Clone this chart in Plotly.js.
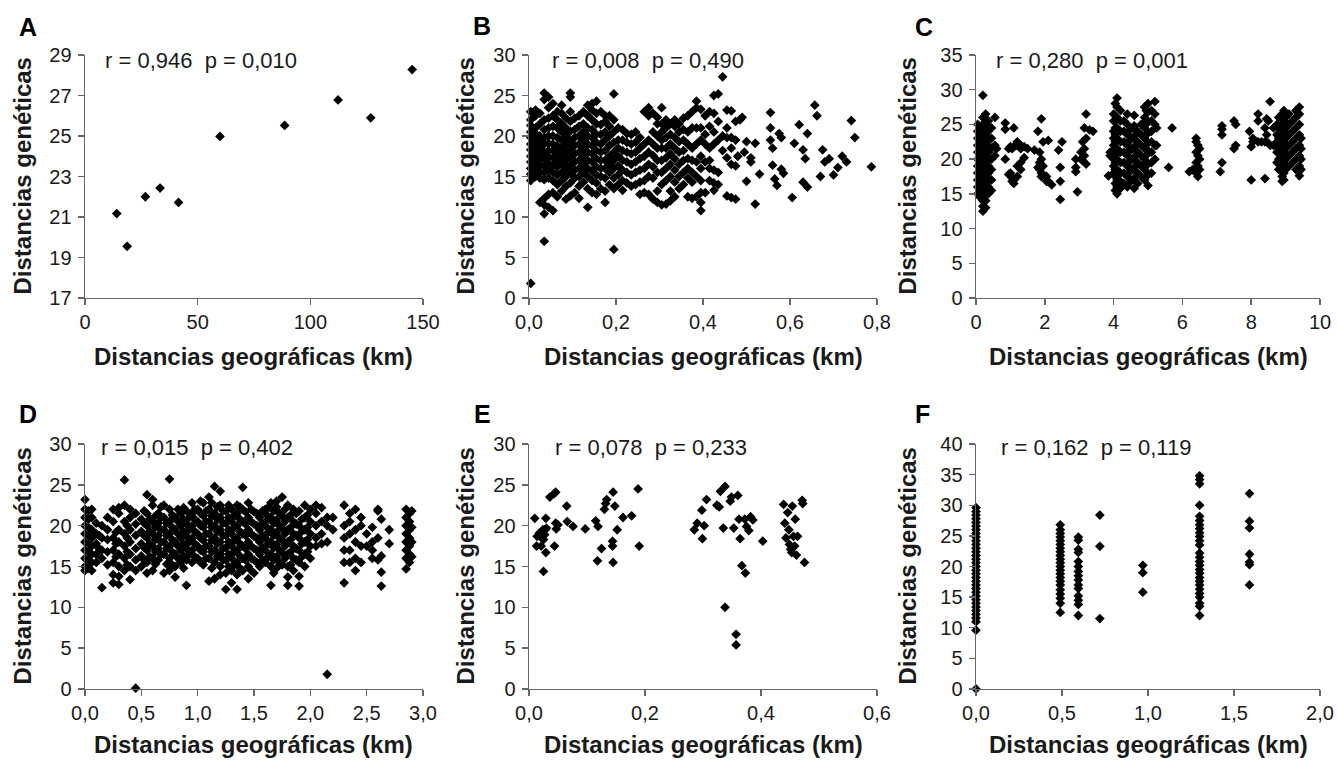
<!DOCTYPE html>
<html><head><meta charset="utf-8">
<script src="https://cdn.plot.ly/plotly-3.0.1.min.js"></script>
<style>html,body{margin:0;padding:0;background:#fff;}#chart{width:1337px;height:760px;}</style>
</head><body><div id="chart"></div>
<script>
// ---------- DATA ----------
const panelLetters = ['A','B','C','D','E','F'];
const statTexts = ['r = 0,946  p = 0,010','r = 0,008  p = 0,490','r = 0,280  p = 0,001',
                   'r = 0,015  p = 0,402','r = 0,078  p = 0,233','r = 0,162  p = 0,119'];
const xTitle = 'Distancias geográficas (km)';
const yTitle = 'Distancias genéticas';

// Panel A
const aX = [14.1, 18.7, 26.8, 33.3, 41.5, 59.9, 88.6, 112.3, 126.8, 145.2];
const aY = [21.17, 19.55, 22.0, 22.43, 21.72, 24.98, 25.52, 26.78, 25.9, 28.28];

// Panel B: strips (x) with their y values
const bCols = [0.004,0.015,0.025,0.035,0.045,0.055,0.065,0.075,0.085,0.095,0.105,0.115,0.125,0.135,0.145,0.155,0.165,0.175,0.185,0.195,0.205,0.215,0.225,0.235,0.245,0.255,0.265,0.275,0.285,0.295,0.305,0.315,0.325,0.335,0.345,0.355,0.365,0.375,0.385,0.395,0.405,0.415,0.425,0.435,0.445,0.455,0.465,0.475];
const bVals = [
 [1.8,14.5,15.3,16.0,16.8,17.5,18.3,19.0,19.8,20.5,21.3,22.0,23.0],
 [15.0,15.8,16.5,17.3,18.0,18.8,19.5,20.3,21.0,22.5,23.2],
 [11.8,14.8,15.5,16.3,17.0,17.8,18.5,19.3,20.0,21.5,22.8],
 [7.0,10.4,11.5,12.3,14.6,15.5,16.3,17.2,18.0,19.0,19.8,20.8,22.0,24.5,25.3],
 [11.2,12.8,14.8,15.8,16.6,17.4,18.2,19.1,20.0,21.0,22.2,23.5,24.8],
 [10.8,13.0,14.5,15.5,16.4,17.3,18.2,19.0,20.0,21.2,22.5,24.0],
 [12.5,14.0,15.2,16.2,17.0,17.9,18.8,19.8,21.0,22.0,23.0],
 [13.2,14.5,15.5,16.5,17.5,18.5,19.5,20.5,21.5,22.8,23.8],
 [12.2,13.8,15.0,16.0,17.0,18.0,19.0,20.0,21.0,22.2],
 [12.6,14.2,15.4,16.4,17.4,18.4,19.4,20.6,21.8,23.0,24.8,25.3],
 [13.0,14.8,15.8,16.8,17.8,18.8,19.8,20.8,22.2],
 [12.3,13.8,15.0,16.0,17.0,18.0,19.0,20.0,21.2,22.5],
 [14.3,15.5,16.5,17.5,18.5,19.5,20.5,21.5,23.0],
 [11.2,13.5,15.0,16.0,17.0,18.0,19.0,20.0,21.0,22.5,23.8],
 [13.0,14.5,15.7,16.8,17.8,18.8,19.8,20.8,22.0,23.2,24.0],
 [12.8,14.2,15.2,16.2,17.2,18.2,19.2,20.2,21.5,22.8,24.3],
 [13.5,15.0,16.0,17.0,18.0,19.0,20.2,21.4,23.0],
 [11.8,13.2,14.8,16.0,17.0,18.2,19.5,20.5,21.8,22.5],
 [14.0,15.5,16.5,17.5,18.8,20.0,21.2,22.5],
 [6.0,13.5,14.8,16.0,17.0,18.0,19.2,20.5,22.0,25.2],
 [14.0,15.2,16.3,17.5,18.5,19.5,21.0],
 [13.3,14.5,15.8,17.0,18.2,19.5,20.8],
 [14.2,15.5,16.8,18.0,19.2,20.3],
 [13.8,15.2,16.5,17.8,19.0,20.2],
 [14.0,15.5,16.8,18.0,19.2,20.5],
 [12.8,14.3,15.8,17.2,18.5,19.8],
 [13.0,14.5,16.0,17.5,19.0,23.0],
 [12.8,15.0,16.5,18.0,19.5,22.5,23.5],
 [12.2,14.8,16.2,17.6,19.0,20.5,22.8],
 [11.8,13.2,15.5,17.0,18.5,20.0,21.5,22.3],
 [11.5,14.0,15.5,17.0,18.5,19.5,20.5,21.5,23.5],
 [11.6,14.5,16.0,17.3,18.5,19.8,21.0,22.0],
 [12.0,13.2,15.0,16.5,17.8,19.0,20.2,21.5],
 [12.5,14.3,15.8,17.2,18.5,19.8,21.2,22.0],
 [13.5,15.0,16.5,18.0,19.3,20.5,21.5],
 [14.0,15.5,17.0,18.2,19.5,20.8,22.2],
 [12.5,14.8,16.0,17.2,19.0,20.5,22.5],
 [12.3,14.3,15.5,17.0,18.5,21.0,23.0],
 [12.5,15.0,16.8,19.0,21.0,23.5,24.3],
 [10.8,11.8,13.0,14.5,16.0,17.5,19.5,21.0,23.3],
 [13.0,16.8,19.0,20.2,22.5],
 [14.5,16.0,17.0,18.5,21.2,23.0],
 [13.3,14.2,15.8,19.0,20.5,22.8,25.0],
 [14.0,15.5,19.5,21.8,25.2],
 [18.2,20.0,27.3],
 [12.6,17.3,19.8,21.0,23.2],
 [12.4,16.5,18.5,19.8,23.1],
 [12.2,16.3,19.5,21.8]
];
const bExtraX = [0.48,0.485,0.49,0.495,0.50,0.50,0.51,0.51,0.52,0.52,0.53,0.555,0.555,0.555,0.56,0.56,0.565,0.57,0.575,0.58,0.58,0.585,0.605,0.61,0.621,0.63,0.63,0.635,0.64,0.64,0.657,0.662,0.67,0.675,0.68,0.69,0.70,0.71,0.72,0.73,0.741,0.749,0.787];
const bExtraY = [17.5,22.0,22.3,18.0,19.3,14.4,16.8,17.3,19.1,11.6,15.3,22.9,21.0,19.5,18.5,16.4,14.7,13.9,20.3,19.8,15.9,15.4,12.4,19.1,21.4,18.3,14.3,17.2,13.7,20.3,23.8,22.5,15.0,18.3,16.8,17.2,15.2,16.1,17.5,16.8,21.9,19.8,16.2];

// Panel C
const cCols = [0.05,0.12,0.2,0.28,0.36,0.45,0.55,0.6,0.85,0.95,1.0,1.05,1.1,1.2,1.3,1.4,1.5,1.7,1.8,1.85,1.9,1.95,2.05,2.1,2.2,2.4,2.45,2.5,2.9,2.95,3.05,3.1,3.15,3.2,3.3,3.4,3.85,3.9,4.0,4.05,4.1,4.2,4.3,4.4,4.5,4.6,4.7,4.8,4.9,4.95,5.0,5.1,5.2,5.25,5.6,5.7,6.2,6.3,6.4,6.45,6.5,7.1,7.15,7.5,7.55,7.95,8.0,8.05,8.2,8.3,8.4,8.45,8.5,8.55,8.65,8.75,8.8,8.9,8.95,9.0,9.1,9.2,9.3,9.4,9.45];
const cVals = [
 [15.0,16.0,17.0,18.0,19.0,20.0,21.0,22.0,23.0,24.0,25.0],
 [14.5,15.5,16.5,17.5,18.5,19.5,20.5,21.5,22.5,23.5,24.5],
 [12.5,13.2,14.0,15.0,16.0,17.0,18.0,19.0,20.0,21.0,22.0,23.0,24.0,25.0,26.0,29.2],
 [13.0,14.0,15.0,16.0,17.0,18.0,19.0,20.0,21.0,22.0,23.0,24.0,25.0,26.5],
 [15.0,16.0,17.0,18.0,19.0,20.0,21.0,22.0,23.0,24.0,25.5],
 [15.5,17.0,18.5,20.0,21.5,23.0,24.5],
 [20.5,22.0,26.0],
 [21.5],
 [20.0,24.3,25.2],
 [17.8,21.5],
 [18.0,21.8],
 [16.8,17.3,21.5],
 [16.5,17.0,21.8,24.5],
 [17.5,19.0,22.0,22.5],
 [18.5,19.5,21.5,22.0],
 [20.2,21.8],
 [21.5],
 [21.3],
 [18.8,24.0],
 [18.5,19.5,21.0],
 [17.5,18.0,20.0,25.8],
 [17.8,19.0,22.5],
 [16.8,17.5],
 [16.8,22.7],
 [16.3],
 [21.3],
 [14.2,16.8,18.8],
 [22.5],
 [18.2,18.8,20.0],
 [15.3],
 [20.0,21.0],
 [19.8,22.5],
 [20.5,21.5,24.5],
 [19.3,23.0,26.5],
 [24.2],
 [24.0],
 [17.6],
 [20.5,21.0],
 [18.0,19.0,20.0,21.0,22.0,23.0,24.0,25.5,26.5],
 [15.5,16.5,17.5,18.5,19.5,20.5,21.5,22.5,23.5,24.5,25.5,28.0],
 [15.0,16.0,17.0,18.5,20.0,21.5,23.0,24.5,26.0,27.5,28.8],
 [15.8,16.8,18.0,19.5,21.0,22.5,24.0,25.5,27.0],
 [16.5,18.0,19.5,21.0,22.5,24.0,25.5],
 [16.0,17.5,19.0,20.5,22.0,23.5,25.0,26.5],
 [16.8,18.3,19.8,21.3,22.8,24.3],
 [15.8,17.3,18.8,20.3,21.8,23.3,24.8,26.3],
 [16.5,18.0,19.5,21.0,22.5,24.0],
 [17.5,19.0,20.5,22.0,23.5,25.0],
 [17.0,18.5,20.0,21.5,23.0,24.5,26.0,27.5],
 [17.5,19.5,21.5,23.5,25.5,27.0],
 [16.2,17.8,19.3,20.8,22.3,23.8,25.3,26.8,28.0],
 [18.0,19.5,21.0,22.5,24.0,25.5,27.0],
 [20.0,22.0,25.0,26.5,28.3],
 [22.0,24.5],
 [18.8],
 [24.5],
 [18.2],
 [18.5],
 [18.0,19.5,21.0,22.5,23.0],
 [17.5,19.0,20.5,22.0],
 [18.5,20.0,21.5],
 [18.2],
 [19.5,23.5,24.3,24.8],
 [21.5,25.5],
 [22.0,25.0],
 [24.0],
 [17.0,21.8],
 [22.5,23.0],
 [22.5,25.5,26.5],
 [22.5],
 [17.2,22.5,24.5],
 [23.5,25.8],
 [22.3,25.5],
 [22.0,28.3],
 [22.0,24.5],
 [19.5,21.0,22.5,23.5,25.0],
 [18.5,20.0,21.5,23.0,24.5,26.0],
 [16.8,17.5,19.0,20.5,22.0,23.5,25.0,26.5],
 [17.0,18.0,19.5,21.0,22.5,24.0,25.5,27.0],
 [18.5,20.0,21.5,23.0,24.5,26.0],
 [19.0,20.5,22.0,23.5,25.0,26.5],
 [19.5,21.0,22.5,24.0,25.5],
 [18.5,20.0,21.5,23.0,24.5,26.0,27.0],
 [17.6,19.0,20.5,22.0,23.5,25.0,26.5,27.5],
 [18.5,20.0,21.5,23.0]
];

// Panel D (main strips + in-between strips)
const dCols = [0.0,0.03,0.06,0.1,0.15,0.2,0.25,0.3,0.35,0.4,0.45,0.5,0.55,0.6,0.65,0.7,0.75,0.8,0.85,0.9,0.95,1.0,1.05,1.1,1.15,1.2,1.25,1.3,1.35,1.4,1.45,1.5,1.55,1.6,1.65,1.7,1.75,1.8,1.85,1.9,1.95,2.0,2.05,2.1,2.15,2.2,2.3,2.35,2.4,2.45,2.5,2.55,2.6,2.63,2.7,2.85,2.88,2.9];
const dVals = [
 [14.5,15.0,16.0,17.0,18.0,19.0,20.0,21.0,22.0,23.2],
 [14.8,15.8,16.8,17.8,18.8,19.8,20.8,21.8],
 [14.5,15.5,16.5,17.5,18.5,19.5,21.0,22.0],
 [15.5,16.5,17.8,19.0,20.3],
 [12.4,16.0,17.0,18.5,20.0],
 [15.2,16.8,18.3,19.5,21.0],
 [13.0,14.0,15.5,17.0,18.5,20.5,22.0],
 [12.8,13.8,15.0,16.5,18.0,19.5,21.5,22.2],
 [14.5,16.0,17.5,19.0,20.5,22.5,25.6],
 [13.4,15.0,16.5,18.0,19.5,21.0,22.0],
 [0.1,14.5,15.8,17.2,18.8,20.2,21.5],
 [15.0,16.3,17.8,19.3,20.8],
 [14.2,15.5,17.0,18.5,20.0,21.5,23.8],
 [14.5,16.0,17.5,19.0,20.5,22.5,23.2],
 [15.8,17.2,18.8,20.3,21.5],
 [14.2,16.5,18.0,19.5,21.0,22.5],
 [14.5,16.0,17.5,19.0,20.5,22.0,25.7],
 [13.7,15.0,16.5,18.0,19.5,21.0],
 [15.5,17.0,18.5,20.0,21.5],
 [12.7,15.8,17.2,18.7,20.2,21.8],
 [15.5,17.0,18.5,20.0,21.5,22.8],
 [16.0,17.5,19.0,20.5,22.0],
 [15.2,16.8,18.2,19.8,21.2,22.8],
 [13.2,16.0,17.5,19.0,20.5,22.0,23.5],
 [13.5,15.5,17.0,18.5,20.0,21.5,24.8],
 [14.0,15.0,16.5,18.0,19.5,21.0,22.5,24.2],
 [12.2,14.2,15.8,17.3,18.8,20.3,21.8],
 [13.0,14.5,16.0,17.5,19.0,20.5,22.0],
 [12.2,14.0,15.5,17.0,18.5,20.0,21.5,22.5],
 [14.5,16.0,17.5,19.0,20.5,22.0,24.7],
 [13.5,15.0,16.5,18.0,19.5,21.0,22.8],
 [14.2,15.8,17.2,18.7,20.2,21.7],
 [15.0,16.5,18.0,19.5,21.0],
 [15.5,17.0,18.5,20.0,21.5,22.0],
 [12.7,15.0,16.5,18.0,19.5,21.0,22.8],
 [14.8,16.2,17.7,19.2,20.7,22.3,23.0],
 [15.2,16.7,18.2,19.7,21.2,23.5],
 [12.7,13.7,15.0,16.5,18.0,19.5,21.0,22.5],
 [14.5,16.0,17.5,19.0,20.5,22.0],
 [12.6,13.8,15.5,17.0,18.5,20.0,21.8],
 [15.0,16.5,18.0,19.5,21.0,22.5],
 [16.0,17.5,19.0,20.5,22.0],
 [17.5,18.5,20.0,21.5,22.5],
 [17.8,19.0,20.5,22.2],
 [1.8,18.0,20.0,21.0],
 [19.5,21.0],
 [13.0,15.5,17.0,18.5,20.0,22.5],
 [15.5,17.0,19.0,20.5,21.5],
 [14.5,16.0,18.0,19.5,22.0],
 [15.5,17.5,20.0,21.0],
 [17.5,19.0],
 [16.0,17.0,18.0,19.8],
 [15.8,18.5,21.8,22.0],
 [12.6,14.3,16.3,20.8],
 [17.8,19.5],
 [14.7,16.0,17.0,18.0,19.0,20.0,21.0,22.0],
 [15.5,16.5,17.5,18.5,19.5,20.5,21.5],
 [16.2,18.0,19.8,21.8]
];
const dCols2 = [0.125,0.275,0.375,0.525,0.575,0.625,0.675,0.725,0.775,0.825,0.875,0.925,0.975,1.025,1.075,1.125,1.175,1.225,1.275,1.325,1.375,1.425,1.475,1.525,1.575,1.625,1.675,1.725,1.775,1.825,1.875,1.925,1.975];
const dVals2 = [
 [17.2,18.8],
 [16.2,17.8,19.2],
 [15.2,16.8,18.5,20.0],
 [15.8,17.3,18.8,20.3,21.8],
 [16.2,17.8,19.3,20.8],
 [15.3,16.8,18.3,19.8,21.2],
 [16.5,18.0,19.5,21.0,22.3],
 [15.3,17.2,18.8,20.3],
 [15.2,16.8,18.3,19.8,21.3],
 [16.0,17.5,19.0,20.5,22.0],
 [14.8,16.3,17.8,19.3,20.8,22.2],
 [16.5,18.0,19.5,21.0],
 [16.2,17.8,19.3,20.8,22.0],
 [15.5,17.0,18.5,20.0,21.5,23.0],
 [16.0,17.5,19.0,20.5,21.8],
 [14.8,16.8,18.2,19.8,21.2,22.8],
 [16.2,17.8,19.3,20.8,22.3],
 [15.8,17.2,18.8,20.3,21.8],
 [15.0,16.5,18.0,19.5,21.0,22.5],
 [15.2,16.8,18.2,19.8,21.2],
 [14.8,16.3,17.8,19.3,20.8,22.3],
 [15.8,17.2,18.8,20.2,21.7],
 [14.5,16.0,17.5,19.0,20.5,22.0],
 [15.5,17.0,18.5,20.0,21.5],
 [15.8,17.3,18.8,20.3,21.8],
 [16.2,17.8,19.2,20.8,22.2],
 [14.2,15.8,17.3,18.8,20.3,21.8],
 [15.5,17.0,18.5,20.0,21.5],
 [16.0,17.5,19.0,20.5,22.0],
 [15.2,16.8,18.3,19.8,21.3],
 [15.8,17.2,18.8,20.2,21.5],
 [16.2,17.8,19.3,20.8],
 [16.8,18.3,19.8,21.3]
];

// Panel E
const eX = [0.010,0.013,0.014,0.018,0.020,0.022,0.021,0.024,0.025,0.027,0.028,0.029,0.029,0.025,0.030,0.036,0.043,0.046,0.044,0.046,0.047,0.050,0.065,0.066,0.076,0.097,0.115,0.119,0.118,0.125,0.130,0.134,0.132,0.144,0.144,0.145,0.145,0.148,0.152,0.162,0.177,0.188,0.190,0.285,0.290,0.298,0.299,0.302,0.306,0.324,0.328,0.330,0.335,0.338,0.338,0.347,0.349,0.353,0.357,0.357,0.360,0.362,0.364,0.367,0.373,0.372,0.375,0.379,0.382,0.386,0.403,0.439,0.441,0.443,0.446,0.448,0.449,0.451,0.453,0.454,0.456,0.458,0.459,0.461,0.463,0.471,0.472,0.475];
const eY = [20.9,17.5,18.7,19.1,18.9,18.5,17.5,19.5,18.3,18.9,19.5,20.9,16.7,14.4,19.7,23.5,23.9,24.1,17.5,20.3,19.6,20.1,22.4,20.5,19.9,19.6,20.6,19.9,15.7,17.2,22.0,23.2,22.7,18.1,17.5,24.1,15.5,22.4,19.5,21.0,21.2,24.5,17.5,19.5,20.3,21.9,18.4,20.0,23.2,22.5,22.3,24.2,19.7,24.8,10.0,23.0,23.5,19.7,6.7,5.4,23.7,20.8,18.4,15.1,14.2,20.8,19.9,19.4,21.1,20.7,18.1,22.6,20.3,18.5,21.6,19.5,17.7,17.1,16.7,22.4,18.7,17.5,20.8,16.4,18.7,23.1,22.7,15.5];

// Panel F
const fCols = [0.0,0.49,0.595,0.72,0.97,1.30,1.59];
const fVals = [
 [0,9.6,11.0,11.6,12.2,12.8,13.4,14.0,14.6,15.2,15.8,16.4,17.0,17.6,18.2,18.8,19.4,20.0,20.6,21.2,21.8,22.4,23.0,23.6,24.2,24.8,25.4,26.0,26.6,27.2,27.8,28.4,29.0,29.6],
 [12.5,14.0,14.8,15.5,16.2,17.0,17.6,18.2,18.8,19.4,20.0,20.6,21.2,21.8,22.4,23.0,23.6,24.2,24.8,25.4,26.0,26.8],
 [12.0,13.8,14.5,15.2,16.4,17.0,17.8,18.5,19.2,20.0,20.8,22.3,22.8,24.3,24.8],
 [11.5,23.3,28.4],
 [15.8,19.0,20.2],
 [12.0,13.5,14.0,15.0,15.6,16.3,17.0,17.6,18.2,18.9,19.5,20.2,20.8,21.5,22.2,23.5,24.2,24.9,25.5,26.2,26.8,27.5,28.2,30.0,33.5,34.2,34.8],
 [17.0,20.3,20.7,22.0,26.3,27.4,31.9]
];

const xRanges = [[0,150],[0,0.8],[0,10],[0,3],[0,0.6],[0,2]];
const xDticks = [50,0.2,2,0.5,0.2,0.5];
const xFormats = ['d','.1f','d','.1f','.1f','.1f'];
const yRanges = [[17,29],[0,30],[0,35],[0,30],[0,30],[0,40]];
const yTick0 = [17,0,0,0,0,0];
const yDticks = [2,5,5,5,5,5];

// ---------- BUILD ----------
function flat(cols, vals, exX, exY) {
  const x = [], y = [];
  cols.forEach((c, i) => vals[i].forEach(v => { x.push(c); y.push(v); }));
  if (exX) exX.forEach((v, i) => { x.push(v); y.push(exY[i]); });
  return {x, y};
}
const B = flat(bCols, bVals, bExtraX, bExtraY);
const C = flat(cCols, cVals);
const D1 = flat(dCols, dVals), D2 = flat(dCols2, dVals2);
const F = flat(fCols, fVals);
const series = [{x: aX, y: aY}, B, C, {x: D1.x.concat(D2.x), y: D1.y.concat(D2.y)}, {x: eX, y: eY}, F];

const W = 1337, H = 760;
const colPx = [[85,423],[529,877],[976,1320]];
const rowPx = [[55,298],[444,689]];
const FONT = 'Arial, "Liberation Sans", sans-serif';
const TXT = '#1a1a1a';
const AX = '#666666';

const traces = [];
const layout = {
  width: W, height: H, margin: {l:0, r:0, t:0, b:0},
  paper_bgcolor: '#fff', plot_bgcolor: 'rgba(0,0,0,0)',
  showlegend: false, separators: ', ',
  font: {family: FONT, color: TXT},
  annotations: []
};

const letterPx = [[28,27],[482,26],[924,27],[28,414],[482,414],[922,414]];
const statPx = [[103,60],[550,60],[994,60],[99,447],[553,448],[999,447]];
const yTitleX = [22,465,907];
const xTitleY = [356,744];

for (let i = 0; i < 6; i++) {
  const col = i % 3, row = Math.floor(i / 3);
  const sfx = i === 0 ? '' : String(i + 1);
  const [x0, x1] = colPx[col], [y0, y1] = rowPx[row];
  const xd = [x0 / W, x1 / W], yd = [1 - y1 / H, 1 - y0 / H];
  traces.push({
    type: 'scatter', mode: 'markers', x: series[i].x, y: series[i].y,
    xaxis: 'x' + sfx, yaxis: 'y' + sfx, cliponaxis: false,
    marker: {symbol: 'diamond', size: 7.5, color: '#000', line: {width: 0}},
    hoverinfo: 'x+y'
  });
  const common = {showline: true, linecolor: AX, linewidth: 1.4, ticks: 'outside', ticklen: 6,
    tickcolor: AX, tickwidth: 1.4, showgrid: false, zeroline: false,
    tickfont: {family: FONT, size: 20, color: TXT}, fixedrange: true};
  layout['xaxis' + sfx] = Object.assign({}, common, {domain: xd, range: xRanges[i],
    dtick: xDticks[i], tick0: 0, tickformat: xFormats[i], anchor: 'y' + sfx});
  layout['yaxis' + sfx] = Object.assign({}, common, {domain: yd, range: yRanges[i],
    dtick: yDticks[i], tick0: yTick0[i], anchor: 'x' + sfx, ticklabelstandoff: 2});
  layout.annotations.push({xref: 'paper', yref: 'paper', x: letterPx[i][0] / W, y: 1 - letterPx[i][1] / H,
    xanchor: 'center', yanchor: 'middle', showarrow: false, text: '<b>' + panelLetters[i] + '</b>',
    font: {family: FONT, size: 25, color: '#000'}});
  layout.annotations.push({xref: 'paper', yref: 'paper', x: statPx[i][0] / W, y: 1 - statPx[i][1] / H,
    xanchor: 'left', yanchor: 'middle', showarrow: false, text: statTexts[i].replace(/  /g, ' \u00a0'),
    font: {family: FONT, size: 22, color: TXT}});
  layout.annotations.push({xref: 'paper', yref: 'paper', x: yTitleX[col] / W, y: 1 - (y0 + y1) / 2 / H,
    xanchor: 'center', yanchor: 'middle', showarrow: false, textangle: -90, text: '<b>' + yTitle + '</b>',
    font: {family: FONT, size: 24, color: TXT}});
  layout.annotations.push({xref: 'paper', yref: 'paper', x: (x0 + x1) / 2 / W, y: 1 - xTitleY[row] / H,
    xanchor: 'center', yanchor: 'middle', showarrow: false, text: '<b>' + xTitle + '</b>',
    font: {family: FONT, size: 24, color: TXT}});
}

Plotly.newPlot('chart', traces, layout, {staticPlot: true, displayModeBar: false});
</script>
</body></html>
